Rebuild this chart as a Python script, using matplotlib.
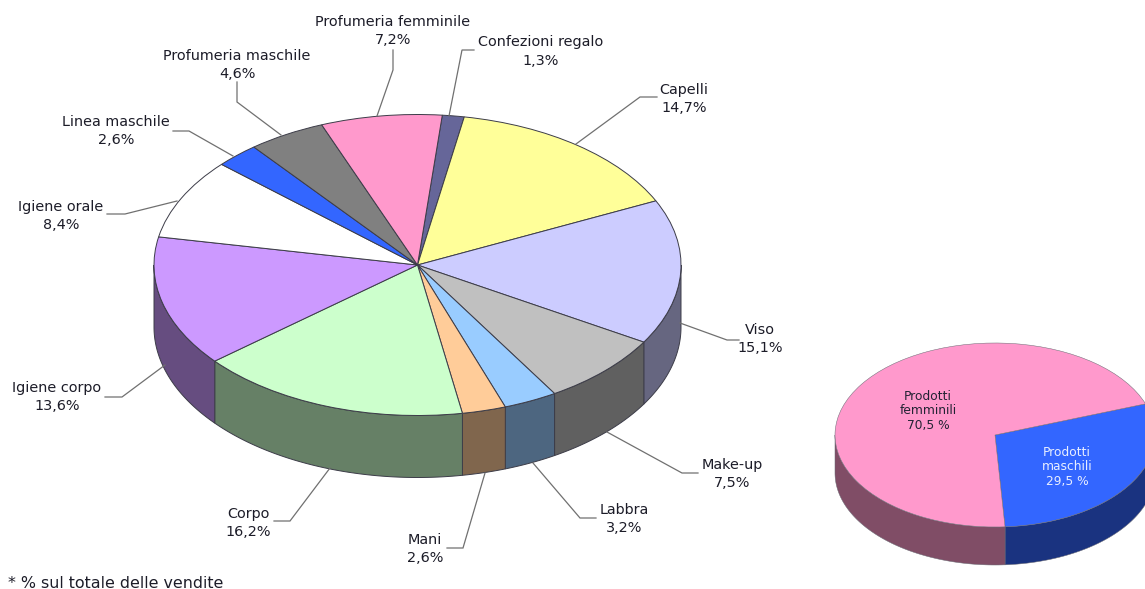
import numpy as np
import matplotlib
matplotlib.use("Agg")
import matplotlib.pyplot as plt
from matplotlib.colors import to_rgb

W, H = 1145, 589
categories = ["Confezioni regalo", "Capelli", "Viso", "Make-up", "Labbra", "Mani", "Corpo",
              "Igiene corpo", "Igiene orale", "Linea maschile", "Profumeria maschile", "Profumeria femminile"]
shares = [1.3, 14.7, 15.1, 7.5, 3.2, 2.6, 16.2, 13.6, 8.4, 2.6, 4.6, 7.2]
colors = ["#666699", "#FFFF99", "#CCCCFF", "#C0C0C0", "#99CCFF", "#FFCC99", "#CCFFCC",
          "#CC99FF", "#FFFFFF", "#3366FF", "#808080", "#FF99CC"]
label_pos = [(541, 51.5), (684, 99), (760, 339), (732, 474), (624, 519), (425, 549), (248, 523),
             (57, 397), (61, 216), (116, 131), (237, 65), (393, 31)]
leaders = [[(449, 116), (462, 50), (474, 50)],
           [(576, 144), (640, 97), (657, 97)],
           [(680, 323), (727, 340), (739, 340)],
           [(607, 432), (682, 473), (698, 473)],
           [(533, 463), (580, 518), (596, 518)],
           [(485, 473), (463, 548), (447, 548)],
           [(330, 468), (290, 521), (274, 521)],
           [(165, 365), (122, 397), (105, 397)],
           [(177, 201), (125, 214), (107, 214)],
           [(233, 156), (189, 131), (173, 131)],
           [(281, 135), (237, 102), (237, 82)],
           [(377, 116), (393, 70), (393, 50)]]

gender_labels = ["Prodotti\nmaschili\n29,5 %", "Prodotti\nfemminili\n70,5 %"]
gender_shares = [29.5, 70.5]
gender_colors = ["#3366FF", "#FF99CC"]
gender_pos = [(1067, 467), (928, 411)]
gender_text = ["#E8EEFF", "#222233"]

fig = plt.figure(figsize=(W / 100, H / 100), dpi=100, facecolor="white")


def darker(c):
    return tuple(v * 0.5 for v in to_rgb(c))


def pie3d(values, cols, cx, cy, rx, ry, depth, start_cw, edge, lw):
    ax = fig.add_axes([(cx - rx) / W, 1 - (cy + ry) / H, 2 * rx / W, 2 * ry / H])
    fr = np.asarray(values, float) / np.sum(values)
    edges = start_cw + np.concatenate([[0], np.cumsum(fr)]) * 360
    d = depth / ry
    # side wall: only the front half of each slice is visible
    for a0, a1, c in zip(edges[:-1], edges[1:], cols):
        for shift in (0, 360):
            lo, hi = max(a0, 90 + shift), min(a1, 270 + shift)
            if hi <= lo:
                continue
            t = np.radians(90 - np.linspace(lo, hi, 80))
            xs = np.r_[np.cos(t), np.cos(t)[::-1]]
            ys = np.r_[np.sin(t), np.sin(t)[::-1] - d]
            ax.fill(xs, ys, facecolor=darker(c), edgecolor=edge, lw=lw, clip_on=False, zorder=1)
    wedges, _ = ax.pie(values, colors=cols, startangle=90 - start_cw, counterclock=False,
                       wedgeprops=dict(edgecolor=edge, linewidth=lw))
    for w in wedges:
        w.set_zorder(2)
    ax.set_aspect("auto")
    ax.set_xlim(-1, 1)
    ax.set_ylim(-1, 1)
    ax.axis("off")
    return ax


pie3d(shares, colors, 417.5, 265, 263.5, 150.5, 62, 5.4, "#3c3c48", 0.7)
pie3d(gender_shares, gender_colors, 995, 435, 160, 92, 38, 70.2, "#6a6a74", 0.35)

ov = fig.add_axes([0, 0, 1, 1], facecolor="none")
ov.set_xlim(0, W)
ov.set_ylim(H, 0)
ov.axis("off")
txt = "#1c1c28"
for pts in leaders:
    xs, ys = zip(*pts)
    ov.plot(xs, ys, color="#707070", lw=0.9, solid_joinstyle="miter")
for name, v, (x, y) in zip(categories, shares, label_pos):
    ov.text(x, y, f"{name}\n{v:.1f}%".replace(".", ","), ha="center", va="center",
            fontsize=10.4, color=txt, linespacing=1.4, family="DejaVu Sans")
for s, (x, y), c in zip(gender_labels, gender_pos, gender_text):
    ov.text(x, y, s, ha="center", va="center", fontsize=8.8, color=c, linespacing=1.17,
            family="DejaVu Sans")
ov.text(8, 583, "* % sul totale delle vendite", ha="left", va="center", fontsize=11.4, color=txt,
        family="DejaVu Sans")

fig.savefig("out.png", dpi=100, facecolor="white")
